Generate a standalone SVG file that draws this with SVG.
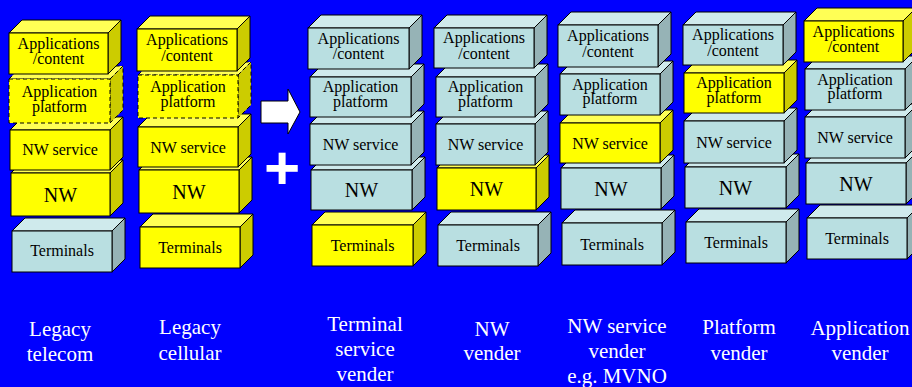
<svg xmlns="http://www.w3.org/2000/svg" width="912" height="387" viewBox="0 0 912 387">
<style>
.f{stroke:#000;stroke-width:1;stroke-linejoin:miter}
.y{fill:#FFFF00}.yt{fill:#FFFF55}.ys{fill:#CCCC00}
.b{fill:#B9DFE1}.bt{fill:#CFEAEC}.bs{fill:#96B3B6}
.d{stroke-dasharray:4 3}
.t{font-family:"Liberation Serif","Times New Roman",serif;font-size:16px;fill:#000;text-anchor:middle}
.nw{font-family:"Liberation Serif","Times New Roman",serif;font-size:20px;fill:#000;text-anchor:middle}
.lb{font-family:"Liberation Serif","Times New Roman",serif;font-size:21px;fill:#fff;text-anchor:middle}
.pl{font-family:"Liberation Sans",Arial,sans-serif;font-size:62px;font-weight:bold;fill:#fff;text-anchor:middle}
</style>
<rect width="912" height="387" fill="#0000FF"/>

<!-- Stack 1: Legacy telecom -->
<g id="s1-terminals"><polygon class="f bt" points="12,231 25,218 125,218 112,231"/><polygon class="f bs" points="112,231 125,218 125,259 112,272"/><rect class="f b" x="12" y="231" width="100" height="41"/><text class="t" x="62" y="256">Terminals</text></g>
<g id="s1-nw"><polygon class="f yt" points="11,173 24,160 123,160 110,173"/><polygon class="f ys" points="110,173 123,160 123,203 110,216"/><rect class="f y" x="11" y="173" width="99" height="43"/><text class="nw" x="60.5" y="202">NW</text></g>
<g id="s1-nwservice"><polygon class="f yt" points="10,130 23,117 123,117 110,130"/><polygon class="f ys" points="110,130 123,117 123,157 110,170"/><rect class="f y" x="10" y="130" width="100" height="40"/><text class="t" x="60" y="155">NW service</text></g>
<g id="s1-platform"><polygon class="f yt d" points="9,79 22,66 123,66 110,79"/><polygon class="f ys d" points="110,79 123,66 123,110 110,123"/><rect class="f y d" x="9" y="79" width="101" height="44"/><text class="t" x="59.5" y="97">Application<tspan x="59.5" dy="14.5">platform</tspan></text></g>
<g id="s1-apps"><polygon class="f yt" points="9,33 22,20 121,20 108,33"/><polygon class="f ys" points="108,33 121,20 121,61 108,74"/><rect class="f y" x="9" y="33" width="99" height="41"/><text class="t" x="58.5" y="48.5">Applications<tspan x="58.5" dy="15.5">/content</tspan></text></g>

<!-- Stack 2: Legacy cellular -->
<g id="s2-terminals"><polygon class="f yt" points="140,227 153,214 253,214 240,227"/><polygon class="f ys" points="240,227 253,214 253,255 240,268"/><rect class="f y" x="140" y="227" width="100" height="41"/><text class="t" x="190" y="253">Terminals</text></g>
<g id="s2-nw"><polygon class="f yt" points="139,170 152,157 252,157 239,170"/><polygon class="f ys" points="239,170 252,157 252,200 239,213"/><rect class="f y" x="139" y="170" width="100" height="43"/><text class="nw" x="189" y="199">NW</text></g>
<g id="s2-nwservice"><polygon class="f yt" points="138,127 151,114 251,114 238,127"/><polygon class="f ys" points="238,127 251,114 251,154 238,167"/><rect class="f y" x="138" y="127" width="100" height="40"/><text class="t" x="188" y="152.5">NW service</text></g>
<g id="s2-platform"><polygon class="f yt d" points="138,75 151,62 251,62 238,75"/><polygon class="f ys d" points="238,75 251,62 251,105 238,118"/><rect class="f y d" x="138" y="75" width="100" height="43"/><text class="t" x="188" y="92">Application<tspan x="188" dy="14.5">platform</tspan></text></g>
<g id="s2-apps"><polygon class="f yt" points="137,29 150,16 250,16 237,29"/><polygon class="f ys" points="237,29 250,16 250,58 237,71"/><rect class="f y" x="137" y="29" width="100" height="42"/><text class="t" x="187" y="45">Applications<tspan x="187" dy="15.5">/content</tspan></text></g>

<!-- Arrow and plus -->
<g id="arrow"><polygon points="261,101 288,101 288,89 300,112 288,134 288,123 261,123" fill="#fff" stroke="#000" stroke-width="1"/></g>
<g id="plus"><text class="pl" x="282" y="189">+</text></g>

<!-- Stack 3: Terminal service vender -->
<g id="s3-terminals"><polygon class="f yt" points="312,225 325,212 426,212 413,225"/><polygon class="f ys" points="413,225 426,212 426,253 413,266"/><rect class="f y" x="312" y="225" width="101" height="41"/><text class="t" x="362.5" y="251">Terminals</text></g>
<g id="s3-nw"><polygon class="f bt" points="311,170 324,157 425,157 412,170"/><polygon class="f bs" points="412,170 425,157 425,197 412,210"/><rect class="f b" x="311" y="170" width="101" height="40"/><text class="nw" x="361.5" y="197">NW</text></g>
<g id="s3-nwservice"><polygon class="f bt" points="310,124 323,111 424,111 411,124"/><polygon class="f bs" points="411,124 424,111 424,152 411,165"/><rect class="f b" x="310" y="124" width="101" height="41"/><text class="t" x="360.5" y="150">NW service</text></g>
<g id="s3-platform"><polygon class="f bt" points="310,77 323,64 424,64 411,77"/><polygon class="f bs" points="411,77 424,64 424,104 411,117"/><rect class="f b" x="310" y="77" width="101" height="40"/><text class="t" x="360.5" y="92">Application<tspan x="360.5" dy="14.5">platform</tspan></text></g>
<g id="s3-apps"><polygon class="f bt" points="308,28 321,15 422,15 409,28"/><polygon class="f bs" points="409,28 422,15 422,56 409,69"/><rect class="f b" x="308" y="28" width="101" height="41"/><text class="t" x="358.5" y="43.5">Applications<tspan x="358.5" dy="15.5">/content</tspan></text></g>

<!-- Stack 4: NW vender -->
<g id="s4-terminals"><polygon class="f bt" points="438,225 451,212 551,212 538,225"/><polygon class="f bs" points="538,225 551,212 551,253 538,266"/><rect class="f b" x="438" y="225" width="100" height="41"/><text class="t" x="488" y="251">Terminals</text></g>
<g id="s4-nw"><polygon class="f yt" points="437,168 450,155 549,155 536,168"/><polygon class="f ys" points="536,168 549,155 549,197 536,210"/><rect class="f y" x="437" y="168" width="99" height="42"/><text class="nw" x="486.5" y="196">NW</text></g>
<g id="s4-nwservice"><polygon class="f bt" points="436,124 449,111 548,111 535,124"/><polygon class="f bs" points="535,124 548,111 548,152 535,165"/><rect class="f b" x="436" y="124" width="99" height="41"/><text class="t" x="485.5" y="150">NW service</text></g>
<g id="s4-platform"><polygon class="f bt" points="436,77 449,64 548,64 535,77"/><polygon class="f bs" points="535,77 548,64 548,104 535,117"/><rect class="f b" x="436" y="77" width="99" height="40"/><text class="t" x="485.5" y="92">Application<tspan x="485.5" dy="14.5">platform</tspan></text></g>
<g id="s4-apps"><polygon class="f bt" points="434,28 447,15 547,15 534,28"/><polygon class="f bs" points="534,28 547,15 547,55 534,68"/><rect class="f b" x="434" y="28" width="100" height="40"/><text class="t" x="484" y="43">Applications<tspan x="484" dy="15.5">/content</tspan></text></g>

<!-- Stack 5: NW service vender -->
<g id="s5-terminals"><polygon class="f bt" points="562,223 575,210 675,210 662,223"/><polygon class="f bs" points="662,223 675,210 675,252 662,265"/><rect class="f b" x="562" y="223" width="100" height="42"/><text class="t" x="612" y="249.5">Terminals</text></g>
<g id="s5-nw"><polygon class="f bt" points="561,168 574,155 674,155 661,168"/><polygon class="f bs" points="661,168 674,155 674,196 661,209"/><rect class="f b" x="561" y="168" width="100" height="41"/><text class="nw" x="611" y="195.5">NW</text></g>
<g id="s5-nwservice"><polygon class="f yt" points="560,123 573,110 673,110 660,123"/><polygon class="f ys" points="660,123 673,110 673,150 660,163"/><rect class="f y" x="560" y="123" width="100" height="40"/><text class="t" x="610" y="148.5">NW service</text></g>
<g id="s5-platform"><polygon class="f bt" points="560,74 573,61 673,61 660,74"/><polygon class="f bs" points="660,74 673,61 673,102 660,115"/><rect class="f b" x="560" y="74" width="100" height="41"/><text class="t" x="610" y="89.5">Application<tspan x="610" dy="14.5">platform</tspan></text></g>
<g id="s5-apps"><polygon class="f bt" points="558,25 571,12 671,12 658,25"/><polygon class="f bs" points="658,25 671,12 671,54 658,67"/><rect class="f b" x="558" y="25" width="100" height="42"/><text class="t" x="608" y="41">Applications<tspan x="608" dy="15.5">/content</tspan></text></g>

<!-- Stack 6: Platform vender -->
<g id="s6-terminals"><polygon class="f bt" points="686,222 699,209 799,209 786,222"/><polygon class="f bs" points="786,222 799,209 799,250 786,263"/><rect class="f b" x="686" y="222" width="100" height="41"/><text class="t" x="736" y="248">Terminals</text></g>
<g id="s6-nw"><polygon class="f bt" points="685,167 698,154 799,154 786,167"/><polygon class="f bs" points="786,167 799,154 799,195 786,208"/><rect class="f b" x="685" y="167" width="101" height="41"/><text class="nw" x="735.5" y="194.5">NW</text></g>
<g id="s6-nwservice"><polygon class="f bt" points="684,121 697,108 797,108 784,121"/><polygon class="f bs" points="784,121 797,108 797,150 784,163"/><rect class="f b" x="684" y="121" width="100" height="42"/><text class="t" x="734" y="147.5">NW service</text></g>
<g id="s6-platform"><polygon class="f yt" points="684,73 697,60 797,60 784,73"/><polygon class="f ys" points="784,73 797,60 797,100 784,113"/><rect class="f y" x="684" y="73" width="100" height="40"/><text class="t" x="734" y="88">Application<tspan x="734" dy="14.5">platform</tspan></text></g>
<g id="s6-apps"><polygon class="f bt" points="683,25 696,12 796,12 783,25"/><polygon class="f bs" points="783,25 796,12 796,52 783,65"/><rect class="f b" x="683" y="25" width="100" height="40"/><text class="t" x="733" y="40">Applications<tspan x="733" dy="15.5">/content</tspan></text></g>

<!-- Stack 7: Application vender -->
<g id="s7-terminals"><polygon class="f bt" points="807,218 820,205 920,205 907,218"/><polygon class="f bs" points="907,218 920,205 920,246 907,259"/><rect class="f b" x="807" y="218" width="100" height="41"/><text class="t" x="857" y="244">Terminals</text></g>
<g id="s7-nw"><polygon class="f bt" points="806,163 819,150 919,150 906,163"/><polygon class="f bs" points="906,163 919,150 919,191 906,204"/><rect class="f b" x="806" y="163" width="100" height="41"/><text class="nw" x="856" y="190.5">NW</text></g>
<g id="s7-nwservice"><polygon class="f bt" points="805,117 818,104 918,104 905,117"/><polygon class="f bs" points="905,117 918,104 918,145 905,158"/><rect class="f b" x="805" y="117" width="100" height="41"/><text class="t" x="855" y="143">NW service</text></g>
<g id="s7-platform"><polygon class="f bt" points="805,69 818,56 918,56 905,69"/><polygon class="f bs" points="905,69 918,56 918,97 905,110"/><rect class="f b" x="805" y="69" width="100" height="41"/><text class="t" x="855" y="84.5">Application<tspan x="855" dy="14.5">platform</tspan></text></g>
<g id="s7-apps"><polygon class="f yt" points="804,21 817,8 916,8 903,21"/><polygon class="f ys" points="903,21 916,8 916,49 903,62"/><rect class="f y" x="804" y="21" width="99" height="41"/><text class="t" x="853.5" y="36.5">Applications<tspan x="853.5" dy="15.5">/content</tspan></text></g>

<!-- Labels -->
<g id="labels">
<text class="lb" x="60" y="336">Legacy<tspan x="60" dy="25">telecom</tspan></text>
<text class="lb" x="190" y="334">Legacy<tspan x="190" dy="26">cellular</tspan></text>
<text class="lb" x="365" y="331">Terminal<tspan x="365" dy="25">service</tspan><tspan x="365" dy="25">vender</tspan></text>
<text class="lb" x="492" y="336">NW<tspan x="492" dy="24">vender</tspan></text>
<text class="lb" x="617" y="333">NW service<tspan x="617" dy="25">vender</tspan><tspan x="617" dy="25">e.g. MVNO</tspan></text>
<text class="lb" x="739" y="334">Platform<tspan x="739" dy="26">vender</tspan></text>
<text class="lb" x="860" y="335">Application<tspan x="860" dy="25">vender</tspan></text>
</g>
</svg>
